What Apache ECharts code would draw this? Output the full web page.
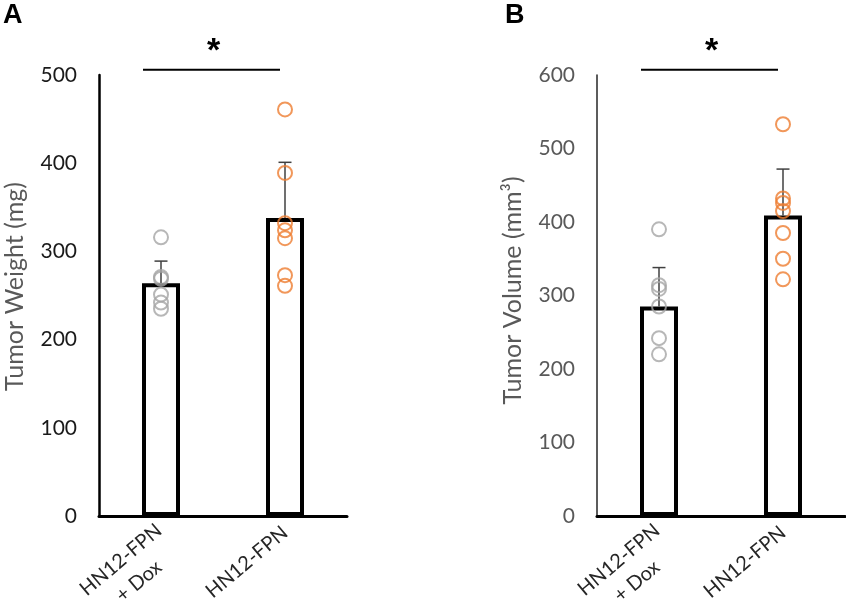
<!DOCTYPE html>
<html>
<head>
<meta charset="utf-8">
<script src="https://cdn.jsdelivr.net/npm/echarts@6/dist/echarts.min.js"></script>
<style>
  html, body { margin: 0; padding: 0; background: #fff; }
  #chart { width: 846px; height: 601px; }
</style>
</head>
<body>
<div id="chart"></div>
<script>
// groups on the x axis
const categories = ['HN12-FPN\n+ Dox', 'HN12-FPN'];

// panel A: tumor weight (mg)
const weightMean = [264, 338];
const weightErr = [25, 63];
const weightDox = [316, 271, 269, 251, 242, 235];
const weightFpn = [461, 389, 332, 324, 315, 273, 261];
const weightAxis = { max: 500, interval: 100 };
const weightSigLevel = 506;

// panel B: tumor volume (mm3)
const volumeMean = [285, 409];
const volumeErr = [53, 63];
const volumeDox = [390, 314, 309, 285, 242, 220];
const volumeFpn = [533, 432, 426, 415, 385, 350, 322];
const volumeAxis = { max: 600, interval: 100 };
const volumeSigLevel = 607;

const FONT = 'Lato';
const GRAY = '#a5a5a5';
const ORANGE = '#ed7d31';

function pts(idx, vals) {
  return vals.map(v => [idx, v]);
}

function xAxisFor(gridIndex) {
  return {
    type: 'category',
    gridIndex: gridIndex,
    // two-line labels sit a little lower, like the original
    data: categories.map(c => c.indexOf('\n') >= 0 ? { value: c, textStyle: { padding: [22, 0, 0, 0] } } : c),
    axisTick: { show: false },
    axisLine: { lineStyle: { color: '#000', width: 3 } },
    axisLabel: {
      rotate: 40,
      margin: 14,
      color: '#262626',
      fontFamily: FONT,
      fontSize: 20,
      formatter: v => v.split('\n').map(s => '{a|' + s + '}').join('\n'),
      rich: { a: { align: 'center', fontFamily: FONT, fontSize: 20, color: '#262626', lineHeight: 28 } }
    }
  };
}

function yAxisFor(gridIndex, ax, name, lineColor, lineWidth, labelColor, shift) {
  return {
    type: 'value',
    gridIndex: gridIndex,
    min: 0,
    max: ax.max,
    interval: ax.interval,
    name: name,
    nameLocation: 'middle',
    nameGap: 72,
    nameTextStyle: { color: '#595959', fontFamily: FONT, fontSize: 25, padding: [0, 0, 0, shift] },
    splitLine: { show: false },
    axisTick: { show: false },
    axisLine: { show: true, lineStyle: { color: lineColor, width: lineWidth } },
    axisLabel: { margin: 22, color: labelColor, fontFamily: FONT, fontSize: 21 }
  };
}

function errorRender(params, api) {
  const m = api.value(1);
  const e = api.value(2);
  const p0 = api.coord([api.value(0), m]);
  const p1 = api.coord([api.value(0), m + e]);
  const st = { stroke: '#404040', lineWidth: 1.5 };
  return {
    type: 'group',
    children: [
      { type: 'line', shape: { x1: p0[0], y1: p0[1], x2: p1[0], y2: p1[1] }, style: st },
      { type: 'line', shape: { x1: p1[0] - 6.5, y1: p1[1], x2: p1[0] + 6.5, y2: p1[1] }, style: st }
    ]
  };
}

function sigRender(params, api) {
  const a = api.coord([api.value(0), api.value(2)]);
  const b = api.coord([api.value(1), api.value(2)]);
  const x1 = a[0] - 18, x2 = b[0] - 5;
  return {
    type: 'group',
    children: [
      { type: 'line', shape: { x1: x1, y1: a[1], x2: x2, y2: a[1] }, style: { stroke: '#000', lineWidth: 2 } },
      {
        type: 'text',
        style: {
          text: '*', x: (x1 + x2) / 2 + 2, y: a[1] - 1,
          align: 'center', verticalAlign: 'bottom',
          font: 'bold 34px Arial, "Liberation Sans"', fill: '#000'
        }
      }
    ]
  };
}

function panelSeries(i, mean, err, dox, fpn, sig) {
  return [
    {
      type: 'bar', xAxisIndex: i, yAxisIndex: i,
      data: mean, barWidth: 38,
      itemStyle: { color: '#fff', borderColor: '#000', borderWidth: 4 },
      silent: true, z: 2
    },
    {
      type: 'custom', xAxisIndex: i, yAxisIndex: i,
      data: mean.map((m, k) => [k, m, err[k]]),
      renderItem: errorRender, z: 3, silent: true
    },
    {
      type: 'scatter', xAxisIndex: i, yAxisIndex: i,
      data: pts(0, dox), symbol: 'circle', symbolSize: 14,
      itemStyle: { color: 'rgba(255,255,255,0)', borderColor: GRAY, borderWidth: 2 },
      z: 4, silent: true
    },
    {
      type: 'scatter', xAxisIndex: i, yAxisIndex: i,
      data: pts(1, fpn), symbol: 'circle', symbolSize: 14,
      itemStyle: { color: 'rgba(255,255,255,0)', borderColor: ORANGE, borderWidth: 2 },
      z: 4, silent: true
    },
    {
      type: 'custom', xAxisIndex: i, yAxisIndex: i,
      data: [[0, 1, sig]], renderItem: sigRender, clip: false, z: 5, silent: true
    }
  ];
}

const chart = echarts.init(document.getElementById('chart'), null, { renderer: 'canvas' });
chart.setOption({
  backgroundColor: '#fff',
  animation: false,
  textStyle: { fontFamily: FONT },
  grid: [
    { left: 99, top: 75, width: 248, height: 441, containLabel: false, outerBoundsMode: 'none' },
    { left: 597, top: 75, width: 248, height: 441, containLabel: false, outerBoundsMode: 'none' }
  ],
  xAxis: [xAxisFor(0), xAxisFor(1)],
  yAxis: [
    yAxisFor(0, weightAxis, 'Tumor Weight (mg)', '#000', 2.5, '#1a1a1a', 18),
    yAxisFor(1, volumeAxis, 'Tumor Volume (mm³)', '#262626', 1.5, '#595959', 10)
  ],
  graphic: [
    { type: 'text', left: 3, top: 2, style: { text: 'A', font: 'bold 27px Arial, "Liberation Sans"', fill: '#000' } },
    { type: 'text', left: 505, top: 2, style: { text: 'B', font: 'bold 27px Arial, "Liberation Sans"', fill: '#000' } }
  ],
  series: [
    ...panelSeries(0, weightMean, weightErr, weightDox, weightFpn, weightSigLevel),
    ...panelSeries(1, volumeMean, volumeErr, volumeDox, volumeFpn, volumeSigLevel)
  ]
});
</script>
</body>
</html>
